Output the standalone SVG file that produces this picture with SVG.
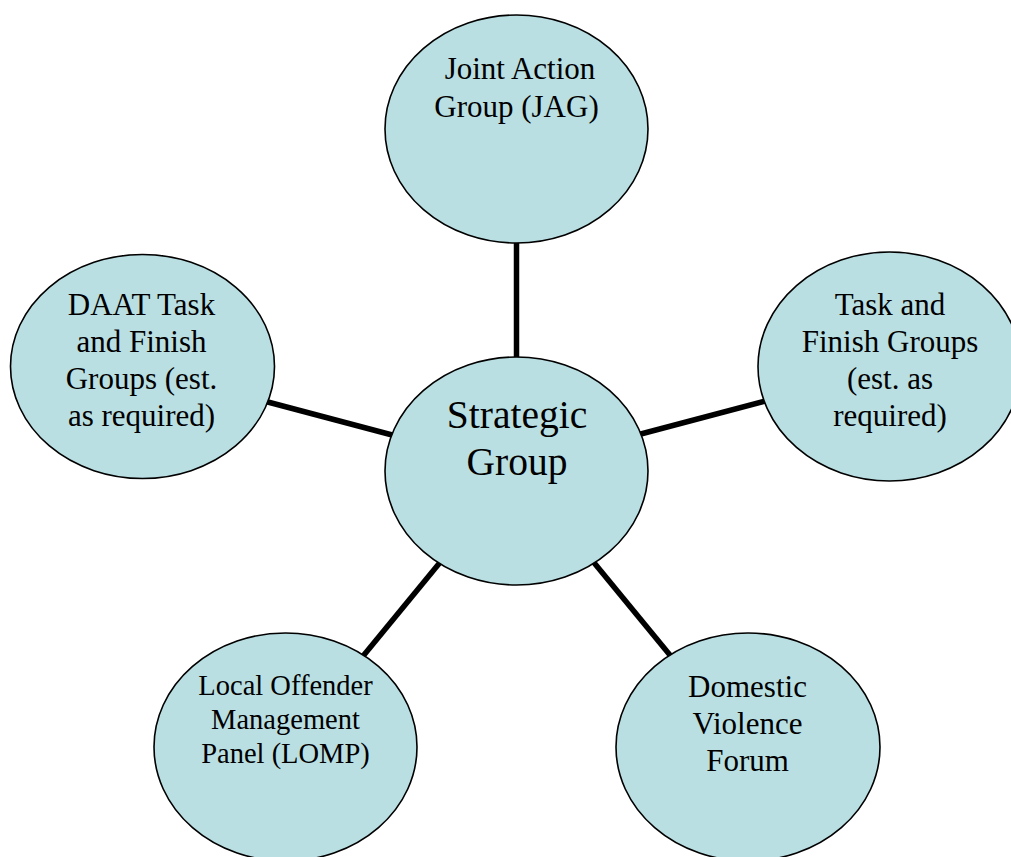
<svg xmlns="http://www.w3.org/2000/svg" width="1011" height="857" viewBox="0 0 1011 857">
<style>
.node ellipse{fill:#B9DFE3;stroke:#000;stroke-width:1.6}
.conn line{stroke:#000;stroke-width:5.5;stroke-linecap:butt}
text{fill:#000;text-anchor:middle}
.t{font-size:31px}
.s{font-size:28.5px}
.c{font-size:39.5px}
</style>
<rect width="1011" height="857" fill="#fff"/>
<g id="connectors" class="conn">
<line x1="516.5" y1="238" x2="516.5" y2="362"/>
<line x1="264" y1="401" x2="396" y2="436"/>
<line x1="637" y1="435" x2="769" y2="400"/>
<line x1="442" y1="560" x2="359" y2="661"/>
<line x1="591" y1="559" x2="674" y2="660"/>
</g>
<g font-family="'Liberation Serif', 'Times New Roman', 'DejaVu Serif', serif">
<g id="jag" class="node">
<ellipse cx="516.5" cy="129" rx="131.5" ry="114"/>
<text class="t" x="520" y="79">Joint Action</text>
<text class="t" x="516.5" y="117">Group (JAG)</text>
</g>
<g id="strategic" class="node">
<ellipse cx="516.5" cy="471" rx="131.5" ry="114"/>
<text class="c" x="517" y="428">Strategic</text>
<text class="c" x="517" y="475">Group</text>
</g>
<g id="task-finish" class="node">
<ellipse cx="889.5" cy="366.5" rx="131.5" ry="114.5"/>
<text class="t" x="890" y="315">Task and</text>
<text class="t" x="890" y="352">Finish Groups</text>
<text class="t" x="890" y="389">(est. as</text>
<text class="t" x="890" y="426">required)</text>
</g>
<g id="daat" class="node">
<ellipse cx="142.5" cy="366.5" rx="132" ry="112"/>
<text class="t" x="141.5" y="315">DAAT Task</text>
<text class="t" x="141.5" y="352">and Finish</text>
<text class="t" x="141.5" y="389">Groups (est.</text>
<text class="t" x="141.5" y="426">as required)</text>
</g>
<g id="lomp" class="node">
<ellipse cx="285.5" cy="747" rx="131.5" ry="114"/>
<text class="s" x="285.5" y="695">Local Offender</text>
<text class="s" x="285.5" y="729">Management</text>
<text class="s" x="285.5" y="763">Panel (LOMP)</text>
</g>
<g id="domestic" class="node">
<ellipse cx="748" cy="747" rx="132" ry="114"/>
<text class="t" x="747.5" y="697">Domestic</text>
<text class="t" x="747.5" y="734">Violence</text>
<text class="t" x="747.5" y="771">Forum</text>
</g>
</g>
</svg>
